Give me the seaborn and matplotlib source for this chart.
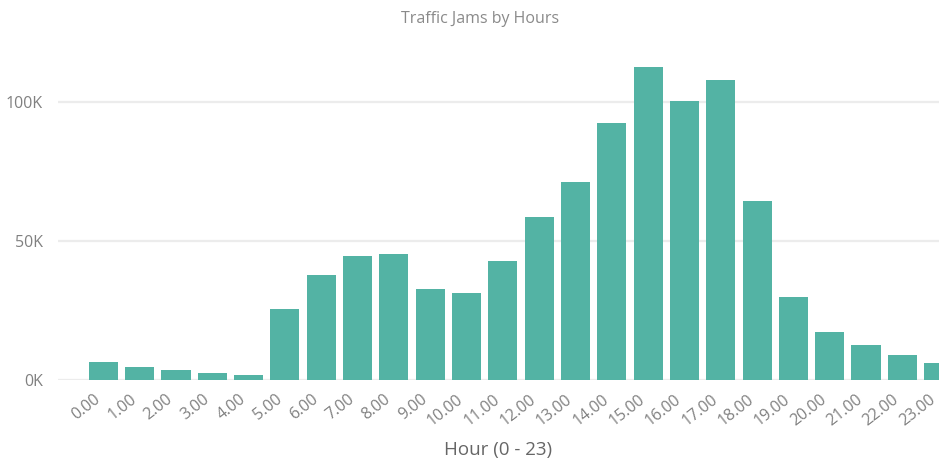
import matplotlib
matplotlib.use("Agg")
import matplotlib.pyplot as plt
import matplotlib.ticker as mticker
import matplotlib.transforms as mtransforms
import seaborn as sns
import pandas as pd

sns.set_theme(style="white")
plt.rcParams["font.family"] = ["Open Sans", "DejaVu Sans"]

hour_labels = ["0.00", "1.00", "2.00", "3.00", "4.00", "5.00", "6.00", "7.00",
               "8.00", "9.00", "10.00", "11.00", "12.00", "13.00", "14.00", "15.00",
               "16.00", "17.00", "18.00", "19.00", "20.00", "21.00", "22.00", "23.00"]
jam_counts = [6400, 4600, 3500, 2500, 1900, 25700, 37800, 44700,
              45400, 32700, 31400, 42700, 58800, 71300, 92400, 112600,
              100400, 107900, 64500, 29900, 17300, 12700, 9000, 6000]

bar_color = "#53b3a4"
text_color = "#808080"


def k_format(value, pos):
    return "{:.0f}K".format(value / 1000)


df = pd.DataFrame({"Hour": hour_labels, "Jams": jam_counts})

fig = plt.figure(figsize=(9.39, 4.61), dpi=100)
ax = fig.add_axes([58 / 939, 81 / 461, 881 / 939, 340 / 461])

ax.set_axisbelow(True)
ax.yaxis.grid(True, color="#ececec", linewidth=1.6)
sns.barplot(data=df, x="Hour", y="Jams", color=bar_color, saturation=1,
            width=0.8, linewidth=0, ax=ax)

ax.set_xlim(-1.25, 23.01)
ax.set_ylim(0, 122400)
ax.set_yticks([0, 50000, 100000])
ax.yaxis.set_major_formatter(mticker.FuncFormatter(k_format))
sns.despine(ax=ax, left=True, bottom=True, top=True, right=True)

ax.tick_params(axis="both", length=0, colors=text_color, labelsize=11.5)
ax.tick_params(axis="y", pad=11)
ax.tick_params(axis="x", pad=8)
shift = mtransforms.ScaledTranslation(-10 / 100, 0, fig.dpi_scale_trans)
for lab in ax.get_xticklabels():
    lab.set_rotation(38)
    lab.set_ha("right")
    lab.set_rotation_mode("anchor")
    lab.set_transform(lab.get_transform() + shift)

ax.set_xlabel("Hour (0 - 23)", fontsize=13.5, color="#666666")
ax.xaxis.set_label_coords(0.5, -0.206)
ax.xaxis.label.set_va("center")
ax.set_ylabel("")
fig.text(480 / 939, 1 - 19 / 461, "Traffic Jams by Hours", ha="center", va="center",
         fontsize=11.5, color="#8a8a8a")

fig.savefig("out.png", dpi=100, facecolor="white")
